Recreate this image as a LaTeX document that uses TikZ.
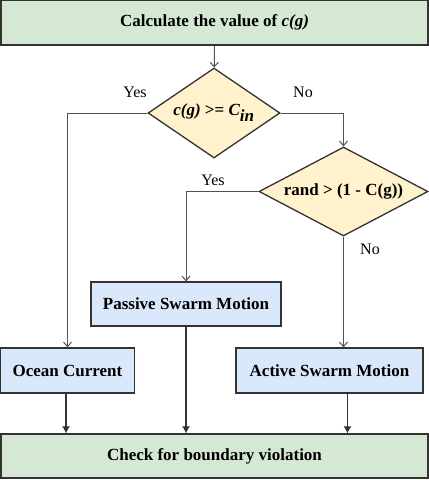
\documentclass[tikz,border=0pt]{standalone}
\usepackage{fontspec}
\setmainfont{Liberation Serif}
\usetikzlibrary{shapes.geometric,arrows.meta}

\definecolor{boxgreen}{HTML}{D5E8D4}
\definecolor{boxblue}{HTML}{DAE8FC}
\definecolor{boxyellow}{HTML}{FFF2CC}
\definecolor{edgegray}{HTML}{333333}

\tikzset{
  stepbox/.style={draw=edgegray,line width=1.3pt,rectangle,inner sep=0pt,font=\bfseries\fontsize{17}{19}\selectfont},
  testbox/.style={draw=edgegray,line width=1.3pt,diamond,inner sep=0pt,fill=boxyellow,font=\bfseries\fontsize{17}{19}\selectfont},
  link/.style={draw=edgegray!85,line width=1pt,-{Straight Barb[length=4.5pt,width=8pt]}},
  joinlink/.style={draw=edgegray,line width=1.2pt,-{Latex[length=7pt,width=8pt]}},
  answer/.style={font=\fontsize{16}{18}\selectfont}
}

\begin{document}
\begin{tikzpicture}[x=1pt,y=-1pt]
    \useasboundingbox (0,0) rectangle (429,480);

    \node[stepbox,fill=boxgreen,minimum width=427pt,minimum height=45pt] (calc) at (214.5,22.5)
      {Calculate the value of \textit{c(g)}};
    \node[testbox,aspect=1.47,minimum width=132pt,minimum height=90pt] (cin) at (214,113)
      {\textit{c(g)} >= \textit{C$_{\textit{in}}$}};
    \node[testbox,aspect=1.9,minimum width=169pt,minimum height=89pt] (rnd) at (343.5,191.5)
      {rand > (1 - C(g))};

    \node[stepbox,fill=boxblue,minimum width=190pt,minimum height=44pt] (passive) at (186,304)
      {Passive Swarm Motion};
    \node[stepbox,fill=boxblue,minimum width=134pt,minimum height=45pt] (ocean) at (67.5,370.5)
      {Ocean Current};
    \node[stepbox,fill=boxblue,minimum width=187pt,minimum height=45pt] (active) at (329.5,370.5)
      {Active Swarm Motion};
    \node[stepbox,fill=boxgreen,minimum width=427pt,minimum height=44pt] (check) at (214.5,456)
      {Check for boundary violation};

    % decisions
    \draw[link] (calc) -- (cin);
    \draw[link] (cin.west) -| (ocean.north);
    \draw[link] (cin.east) -| (rnd.north);
    \draw[link] (rnd.west) -| (passive.north);
    \draw[link] (rnd.south) -- (rnd.south |- active.north);

    \node[answer] (yes1) at (135,92) {Yes};
    \node[answer] (no1) at (303,92) {No};
    \node[answer] (yes2) at (213,180) {Yes};
    \node[answer] (no2) at (370,249) {No};

    % into the check
    \coordinate (activeout) at ([xshift=18pt]active.south);
    \draw[joinlink] ([xshift=-1.5pt]ocean.south) -- ([xshift=-1.5pt]ocean.south |- check.north);
    \draw[joinlink] (passive.south) -- (passive.south |- check.north);
    \draw[joinlink] (activeout) -- (activeout |- check.north);

  \end{tikzpicture}
\end{document}
